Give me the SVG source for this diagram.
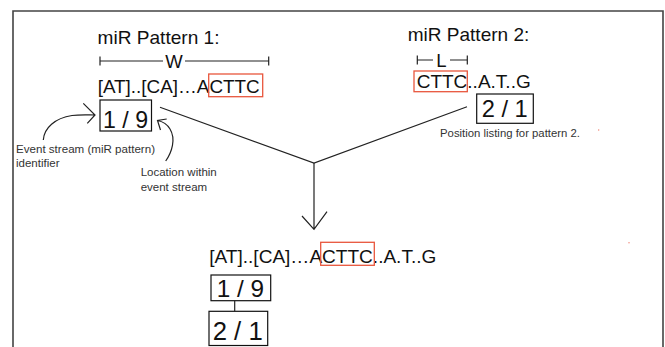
<svg xmlns="http://www.w3.org/2000/svg" width="665" height="347" viewBox="0 0 665 347">
<defs>
<style>
.t{font-family:"Liberation Sans",Arial,Helvetica,sans-serif;fill:#111}
.h{font-size:18.5px}
.seq{font-size:18.6px}
.num{font-size:24px}
.sm{font-size:11.5px;fill:#333}
.box{fill:none;stroke:#111;stroke-width:1.2}
.red{fill:none;stroke:#e8563c;stroke-width:1.3}
.ln{fill:none;stroke:#222;stroke-width:1.2}
.frame{fill:none;stroke:#444;stroke-width:1.6}
</style>
</defs>
<rect width="665" height="347" fill="#fff"/>
<path class="frame" d="M13,347 V11 H663 V347"/>

<g id="pattern1">
<text class="t h" x="97.5" y="44" textLength="122" lengthAdjust="spacingAndGlyphs">miR Pattern 1:</text>
<path class="ln" d="M100,56.5 V65.5 M100,61 H163 M185,61 H268.7 M268.7,56.5 V65.5"/>
<text class="t h" x="174" y="68" text-anchor="middle">W</text>
<text class="t seq" x="97.7" y="93.3" textLength="162" lengthAdjust="spacingAndGlyphs">[AT]..[CA]…ACTTC</text>
<rect class="red" x="208.7" y="74" width="54" height="22.7"/>
</g>

<g id="pos1">
<rect class="box" x="100" y="100" width="51.5" height="31"/>
<text class="t num" x="103" y="128" textLength="45" lengthAdjust="spacingAndGlyphs">1 / 9</text>
</g>

<g id="pattern2">
<text class="t h" x="407.7" y="40.7" textLength="121.6" lengthAdjust="spacingAndGlyphs">miR Pattern 2:</text>
<path class="ln" d="M417.3,55.5 V64.5 M417.3,60 H433 M450,60 H467.3 M467.3,55.5 V64.5"/>
<text class="t h" x="441.5" y="66.5" text-anchor="middle">L</text>
<text class="t seq" x="416.7" y="88.3" textLength="114" lengthAdjust="spacingAndGlyphs">CTTC..A.T..G</text>
<rect class="red" x="414" y="71" width="53.3" height="20.7"/>
</g>

<g id="pos2">
<rect class="box" x="476.7" y="94" width="56.6" height="29.3"/>
<text class="t num" x="481.7" y="116.7" textLength="46" lengthAdjust="spacingAndGlyphs">2 / 1</text>
<text class="t sm" x="440" y="137.3" textLength="140" lengthAdjust="spacingAndGlyphs">Position listing for pattern 2.</text>
</g>

<g id="label-identifier">
<text class="t sm" x="16" y="153.3" textLength="139" lengthAdjust="spacingAndGlyphs">Event stream (miR pattern)</text>
<text class="t sm" x="16" y="166.7">identifier</text>
</g>

<g id="label-location">
<text class="t sm" x="140.7" y="176">Location within</text>
<text class="t sm" x="140.7" y="190.5">event stream</text>
</g>

<g id="merged">
<text class="t seq" x="209.3" y="263.3" textLength="227" lengthAdjust="spacingAndGlyphs">[AT]..[CA]…ACTTC..A.T..G</text>
<rect class="red" x="320.7" y="242.3" width="53.6" height="23"/>
</g>

<g id="merged-pos1">
<rect class="box" x="211" y="275" width="59.7" height="25.7"/>
<text class="t num" x="216.7" y="296.7" textLength="47.3" lengthAdjust="spacingAndGlyphs">1 / 9</text>
</g>

<g id="merged-pos2">
<rect class="box" x="209" y="311.3" width="58.7" height="34.2"/>
<text class="t" style="font-size:26px" x="212.7" y="340" textLength="50" lengthAdjust="spacingAndGlyphs">2 / 1</text>
</g>

<g id="connectors">
<path class="ln" d="M160,107.3 L314,163 L467,106.7"/>
<path class="ln" d="M314,163 V229.3 M302,216 L314,229.3 L327,211.7"/>
<path class="ln" d="M234.7,300.7 V311.3"/>
<path class="ln" d="M43.3,140 C44,128 55,118 72,115.5 C80,114.5 88,115 95,115 M83.3,103.3 L95,115 L87.3,123.3"/>
<path class="ln" d="M165.7,161 C172,152 176,139 170,129 C167,124 163,121.5 157.5,120.5 M166.7,119 L157.5,120.5 L160.5,130"/>
</g>

<circle cx="598.7" cy="130" r="0.7" fill="#f08070"/>
<circle cx="629" cy="242.7" r="0.7" fill="#f08070"/>
</svg>
